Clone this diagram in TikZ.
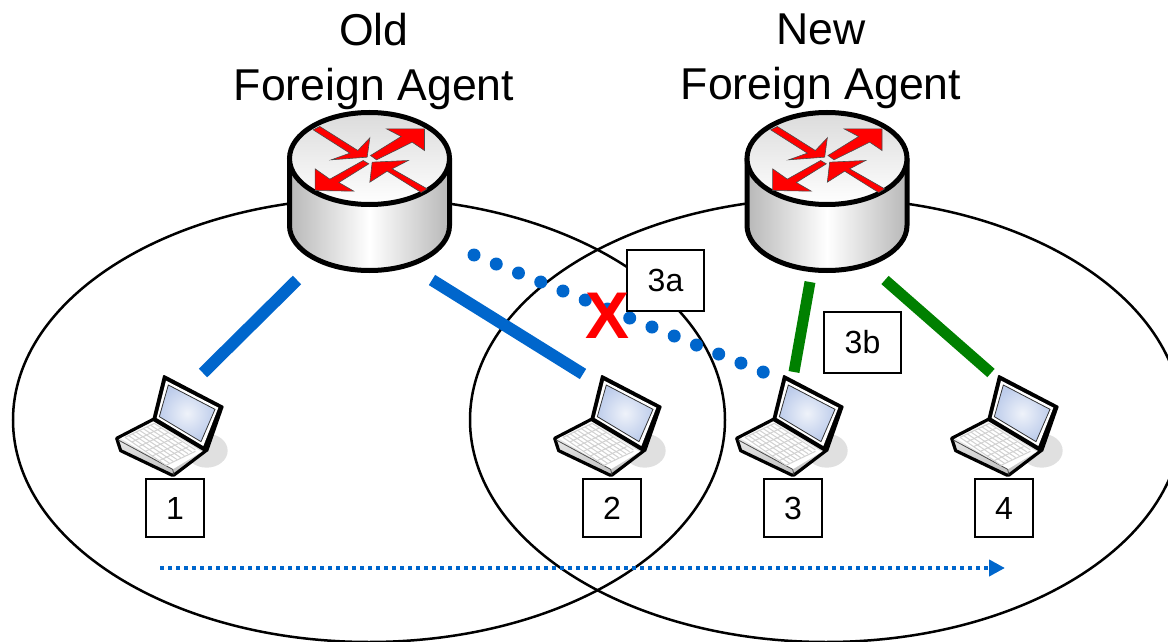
\documentclass[tikz,border=0pt]{standalone}
\usepackage{fontspec}
\setmainfont{Liberation Sans}
\usetikzlibrary{arrows.meta}
\definecolor{linkblue}{RGB}{0,102,204}
\definecolor{linkgreen}{RGB}{0,128,0}
\definecolor{screenblue}{RGB}{190,205,235}
\tikzset{
  numbox/.style={draw,fill=white,line width=1pt,inner sep=0pt,minimum width=29pt,minimum height=29pt,font=\fontsize{16}{19}\selectfont},
  stepbox/.style={numbox,minimum width=38.5pt,minimum height=30.5pt},
  title/.style={align=center,font=\fontsize{22.3}{27.5}\selectfont},
  cell/.style={draw=black,line width=1.25pt},
  bluelink/.style={linkblue,line width=6pt},
  greenlink/.style={linkgreen,line width=5.5pt},
  redarrow/.style={fill=red,draw=black!70,line width=.3pt,line join=miter},
  router/.pic={
    \begin{scope}[x=.16667pt,y=-.16667pt]
      \shade[left color=black!28,right color=black!28,middle color=white]
        (-240,0) -- (-240,201) arc[start angle=180,end angle=360,x radius=40pt,y radius=22.5pt] -- (240,0) -- cycle;
      \draw[line width=2.5pt] (-240,0) -- (-240,201) arc[start angle=180,end angle=360,x radius=40pt,y radius=22.5pt] -- (240,0);
      \draw[line width=2.5pt,top color=black!14,bottom color=white] (0,0) ellipse[x radius=40pt,y radius=23pt];
      \begin{scope}[shift={(-297,-174)}]
        \path[redarrow] (128,88) -- (148,78) -- (262,150) -- (298,112) -- (290,170) -- (182,178) -- (238,158) -- cycle;
        \path[redarrow] (300,165) -- (392,108) -- (348,85) -- (462,85) -- (462,150) -- (425,125) -- (318,178) -- cycle;
        \path[redarrow] (278,180) -- (178,236) -- (134,205) -- (134,270) -- (250,272) -- (205,246) -- (295,190) -- cycle;
        \path[redarrow] (470,265) -- (452,276) -- (350,212) -- (298,245) -- (305,185) -- (413,180) -- (365,205) -- cycle;
      \end{scope}
    \end{scope}
  },
  laptop/.pic={
    \begin{scope}[x=.16667pt,y=-.16667pt]
      \fill[black!12] (320,272) ellipse[x radius=10.5pt,y radius=8.5pt];
      \draw[line width=1.6pt,line join=round,top color=white,bottom color=black!25]
        (50,235) -- (160,178) -- (318,272) -- (222,345) -- (215,345) -- (62,272) -- cycle;
      \fill[white] (62,235) -- (160,188) -- (305,275) -- (218,328) -- cycle;
      \draw[black!70,line width=.4pt] (55,240) -- (218,328) -- (222,345);
      \foreach \i in {0,...,8}
        \draw[black!18,line width=.5pt] ({75+\i*11},{232-\i*5.2}) -- ({198+\i*11},{316-\i*5.8});
      \foreach \i in {0,...,6}
        \draw[black!18,line width=.5pt] ({75+\i*20.5},{232+\i*14}) -- ({163+\i*20.5},{190+\i*14});
      \fill[black,line join=round,draw=black,line width=1pt] (192,48) -- (368,140) -- (322,272) -- (160,178) -- cycle;
      \fill[white] (198,62) -- (355,143) -- (310,258) -- (170,174) -- cycle;
      \draw[black!80,line width=.4pt,inner color=screenblue!25,outer color=screenblue] (205,75) -- (345,148) -- (303,245) -- (178,170) -- cycle;
    \end{scope}
  }
}
\begin{document}
\begin{tikzpicture}[x=.5pt,y=-.5pt]
  \useasboundingbox (0,0) rectangle (1168,642);
  \clip (0,0) rectangle (1168,642);
  \draw[cell] (369,420) ellipse[x radius=178pt,y radius=111pt];
  \draw[cell] (826,420) ellipse[x radius=178pt,y radius=111pt];

  \node[title] (oldlabel) at (374,61) {Old\\Foreign Agent};
  \node[title] (newlabel) at (821,61) {New\\Foreign Agent};

  \pic at (369.5,158.5) {router};
  \pic at (827,158.5) {router};
  \pic at (100,360) {laptop};
  \pic at (538,360) {laptop};
  \pic at (720,360) {laptop};
  \pic at (935,360) {laptop};

  \node[numbox] (one) at (175,508) {1};
  \node[numbox] (two) at (612,508) {2};
  \node[numbox] (three) at (793,508) {3};
  \node[numbox] (four) at (1004,508) {4};

  \coordinate (oldleft) at (297,280);
  \coordinate (oldright) at (432,280);
  \coordinate (olddots) at (474,255);
  \coordinate (newleft) at (810,282);
  \coordinate (newright) at (885,280);
  \coordinate (lapone) at (203,373);
  \coordinate (laptwo) at (583,374);
  \coordinate (lapdots) at (768,374);
  \coordinate (lapthree) at (794,372);
  \coordinate (lapfour) at (991,373);
  \coordinate (movefrom) at (160,568);
  \coordinate (moveto) at (1005,568);

  \draw[bluelink] (oldleft) -- (lapone);
  \draw[bluelink] (oldright) -- (laptwo);
  \draw[linkblue,line width=6.5pt,line cap=round,dash pattern=on 0pt off 12pt] (olddots) -- (lapdots);
  \draw[greenlink] (newleft) -- (lapthree);
  \draw[greenlink] (newright) -- (lapfour);
  \draw[linkblue,line width=2pt,dash pattern=on 2pt off 2pt,-{Triangle[length=8pt,width=8pt]}] (movefrom) -- (moveto);

  \node[stepbox] (stepa) at (665.5,280.5) {3a};
  \node[stepbox] (stepb) at (862.5,342.5) {3b};
  \node[text=red,font=\fontsize{33}{33}\selectfont\bfseries,inner sep=0pt] (cross) at (608,316) {X};
\end{tikzpicture}
\end{document}
